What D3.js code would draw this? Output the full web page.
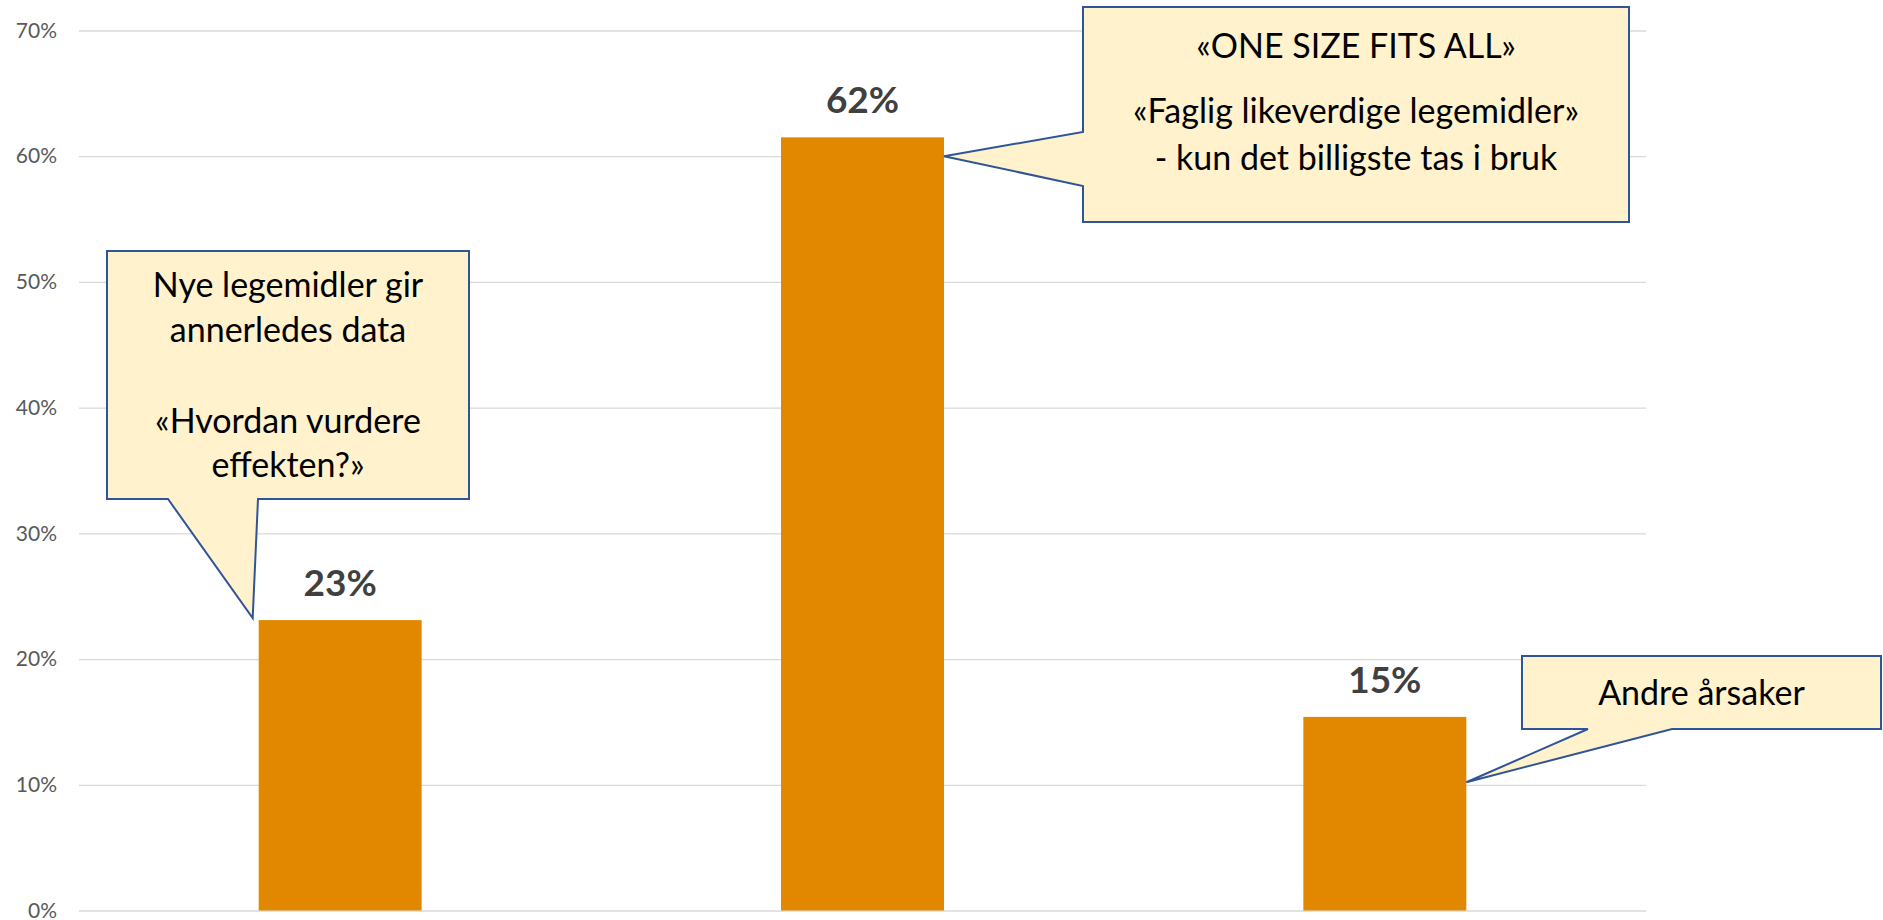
<!DOCTYPE html>
<html>
<head>
<meta charset="utf-8">
<script src="https://cdn.jsdelivr.net/npm/d3@7"></script>
<style>
  html, body { margin: 0; padding: 0; background: #fff; }
  svg { display: block; }
</style>
</head>
<body>
<div id="chart"></div>
<script>
// Data
const categories = ['Nye legemidler', 'One size fits all', 'Andre årsaker'];
const shares = [0.231, 0.615, 0.154];
const shareLabels = ['23%', '62%', '15%'];
const yTicks = [0, 0.1, 0.2, 0.3, 0.4, 0.5, 0.6, 0.7];
const calloutLines = [
    ['Nye legemidler gir', 'annerledes data', '', '«Hvordan vurdere', 'effekten?»'],
    ['«ONE SIZE FITS ALL»', '', '«Faglig likeverdige legemidler»', '- kun det billigste tas i bruk'],
    ['Andre årsaker']
];

// Layout
const width = 1883;
const height = 920;
const plot = {left: 79, right: 1646, top: 30.5, bottom: 910.5};

const svg = d3.select('#chart').append('svg')
    .attr('width', width)
    .attr('height', height);

const x = d3.scaleBand()
    .domain(categories)
    .range([plot.left, plot.right])
    .paddingInner(0.688)
    .paddingOuter(0.344);

const y = d3.scaleLinear()
    .domain([0, 0.7])
    .range([plot.bottom, plot.top]);

// gridlines + tick labels
const yAxis = d3.axisLeft(y)
    .tickValues(yTicks)
    .tickFormat(d3.format('.0%'))
    .tickSize(-(plot.right - plot.left))
    .tickPadding(22);

const yBar = svg.append('g')
    .attr('class', 'y axis')
    .attr('transform', 'translate(' + plot.left + ',0)')
    .call(yAxis);
yBar.select('.domain').remove();
yBar.selectAll('line').attr('stroke', '#d9d9d9').attr('stroke-width', 1.3);
yBar.selectAll('text')
    .attr('fill', '#595959')
    .style('font-family', 'Lato, sans-serif')
    .style('font-size', '21px');

// bars
svg.selectAll('rect.bar')
    .data(shares)
    .join('rect')
    .attr('class', 'bar')
    .attr('x', (d, i) => x(categories[i]))
    .attr('y', d => y(d))
    .attr('width', x.bandwidth())
    .attr('height', d => y(0) - y(d))
    .attr('fill', '#e28800');

// value labels
svg.selectAll('text.value')
    .data(shares)
    .join('text')
    .attr('class', 'value')
    .attr('x', (d, i) => x(categories[i]) + x.bandwidth() / 2)
    .attr('y', d => y(d) - 24)
    .attr('text-anchor', 'middle')
    .attr('fill', '#404040')
    .style('font-family', 'Lato, sans-serif')
    .style('font-weight', 'bold')
    .style('font-size', '37px')
    .text((d, i) => shareLabels[i]);

// callouts: box, tail side and base, where the tail points to
const bw = x.bandwidth();
const callouts = [
    {box: [107, 251, 469, 499], side: 'bottom', base: [168, 258],
        tip: [x(categories[0]) - 6, y(shares[0]) - 2], lineY: [46, 91, 0, 182, 226]},
    {box: [1083, 7, 1629, 222], side: 'left', base: [132, 186],
        tip: [x(categories[1]) + bw, y(0.6)], lineY: [51, 0, 116, 163]},
    {box: [1522, 656, 1881, 729], side: 'bottom', base: [1588, 1672],
        tip: [x(categories[2]) + bw, y(0.102)], lineY: [49]}
];

function calloutPath(c) {
    const [x0, y0, x1, y1] = c.box;
    const p = d3.path();
    p.moveTo(x0, y0);
    p.lineTo(x1, y0);
    p.lineTo(x1, y1);
    if (c.side === 'bottom') {
        p.lineTo(c.base[1], y1);
        p.lineTo(c.tip[0], c.tip[1]);
        p.lineTo(c.base[0], y1);
        p.lineTo(x0, y1);
    } else {
        p.lineTo(x0, y1);
        p.lineTo(x0, c.base[1]);
        p.lineTo(c.tip[0], c.tip[1]);
        p.lineTo(x0, c.base[0]);
    }
    p.closePath();
    return p.toString();
}

const cg = svg.selectAll('g.callout')
    .data(callouts)
    .join('g')
    .attr('class', 'callout');

cg.append('path')
    .attr('d', calloutPath)
    .attr('fill', '#fff2cc')
    .attr('stroke', '#2f5597')
    .attr('stroke-width', 2)
    .attr('stroke-linejoin', 'miter');

cg.each(function (c, i) {
    const cx = (c.box[0] + c.box[2]) / 2;
    d3.select(this).selectAll('text')
        .data(calloutLines[i].map((t, j) => ({t: t, y: c.lineY[j]})).filter(d => d.t !== ''))
        .join('text')
        .attr('x', cx)
        .attr('y', d => c.box[1] + d.y)
        .attr('text-anchor', 'middle')
        .attr('fill', '#000')
        .style('font-family', 'Lato, sans-serif')
        .style('font-size', '34px')
        .text(d => d.t);
});
</script>
</body>
</html>
